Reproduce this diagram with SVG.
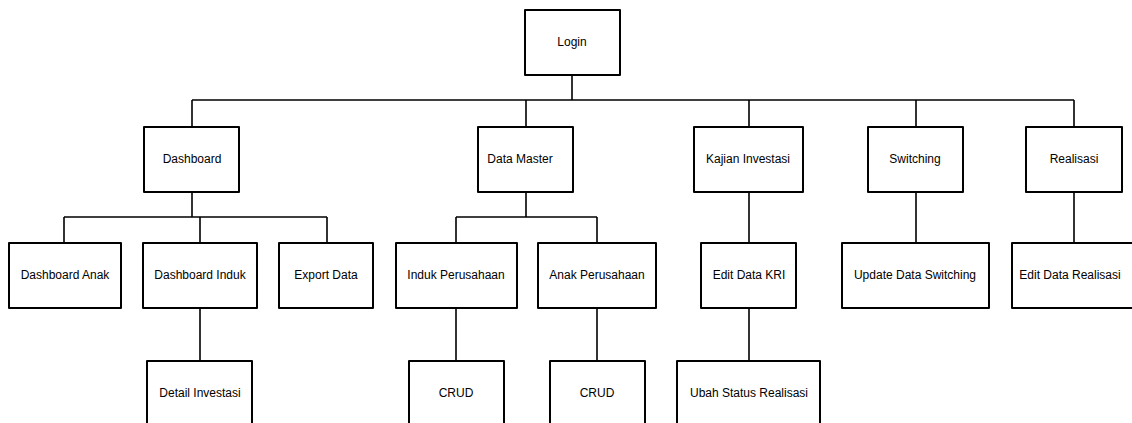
<svg xmlns="http://www.w3.org/2000/svg" width="1132" height="423" viewBox="0 0 1132 423">
<style>
.box{fill:#fff;stroke:#000;stroke-width:2;stroke-linejoin:round}
.lbl{font-family:"Liberation Sans",Arial,sans-serif;font-size:12px;fill:#000;text-anchor:middle;dominant-baseline:central}
.con{fill:none;stroke:#000;stroke-width:1.6}
</style>
<rect width="1132" height="423" fill="#fff"/>
<g id="connectors">
<path class="con" d="M572 75V100M192 100H1074M192 100V127M526 100V127M749 100V127M916 100V127M1074 100V127"/>
<path class="con" d="M192 192V217M64 217H327M64 217V243M200 217V243M327 217V243"/>
<path class="con" d="M526 192V217M456 217H597M456 217V243M597 217V243"/>
<path class="con" d="M749 192V243M916 192V243M1074 192V243"/>
<path class="con" d="M200 308V361M456 308V361M597 308V361M749 308V361"/>
</g>
<g id="login"><rect class="box" x="525" y="10" width="95" height="65"/><text class="lbl" x="572" y="42">Login</text></g>
<g id="dashboard"><rect class="box" x="144" y="127" width="95" height="65"/><text class="lbl" x="192" y="159">Dashboard</text></g>
<g id="data-master"><rect class="box" x="478" y="127" width="95" height="65"/><text class="lbl" x="520" y="159">Data Master</text></g>
<g id="kajian"><rect class="box" x="694" y="127" width="109" height="65"/><text class="lbl" x="748" y="159">Kajian Investasi</text></g>
<g id="switching"><rect class="box" x="868" y="127" width="95" height="65"/><text class="lbl" x="915" y="159">Switching</text></g>
<g id="realisasi"><rect class="box" x="1026" y="127" width="96" height="65"/><text class="lbl" x="1074" y="159">Realisasi</text></g>
<g id="dashboard-anak"><rect class="box" x="9" y="243" width="112" height="65"/><text class="lbl" x="65" y="275">Dashboard Anak</text></g>
<g id="dashboard-induk"><rect class="box" x="143" y="243" width="114" height="65"/><text class="lbl" x="200" y="275">Dashboard Induk</text></g>
<g id="export-data"><rect class="box" x="279" y="243" width="94" height="65"/><text class="lbl" x="326" y="275">Export Data</text></g>
<g id="induk-perusahaan"><rect class="box" x="396" y="243" width="121" height="65"/><text class="lbl" x="456" y="275">Induk Perusahaan</text></g>
<g id="anak-perusahaan"><rect class="box" x="538" y="243" width="118" height="65"/><text class="lbl" x="597" y="275">Anak Perusahaan</text></g>
<g id="edit-kri"><rect class="box" x="701" y="243" width="95" height="65"/><text class="lbl" x="749" y="275">Edit Data KRI</text></g>
<g id="update-switching"><rect class="box" x="842" y="243" width="147" height="65"/><text class="lbl" x="915" y="275">Update Data Switching</text></g>
<g id="edit-realisasi"><rect class="box" x="1012" y="243" width="126" height="65"/><text class="lbl" x="1070" y="275">Edit Data Realisasi</text></g>
<g id="detail-investasi"><rect class="box" x="147" y="361" width="105" height="65"/><text class="lbl" x="200" y="393">Detail Investasi</text></g>
<g id="crud-1"><rect class="box" x="409" y="361" width="95" height="65"/><text class="lbl" x="456" y="393">CRUD</text></g>
<g id="crud-2"><rect class="box" x="550" y="361" width="95" height="65"/><text class="lbl" x="597" y="393">CRUD</text></g>
<g id="ubah-status"><rect class="box" x="677" y="361" width="143" height="65"/><text class="lbl" x="749" y="393">Ubah Status Realisasi</text></g>
</svg>
